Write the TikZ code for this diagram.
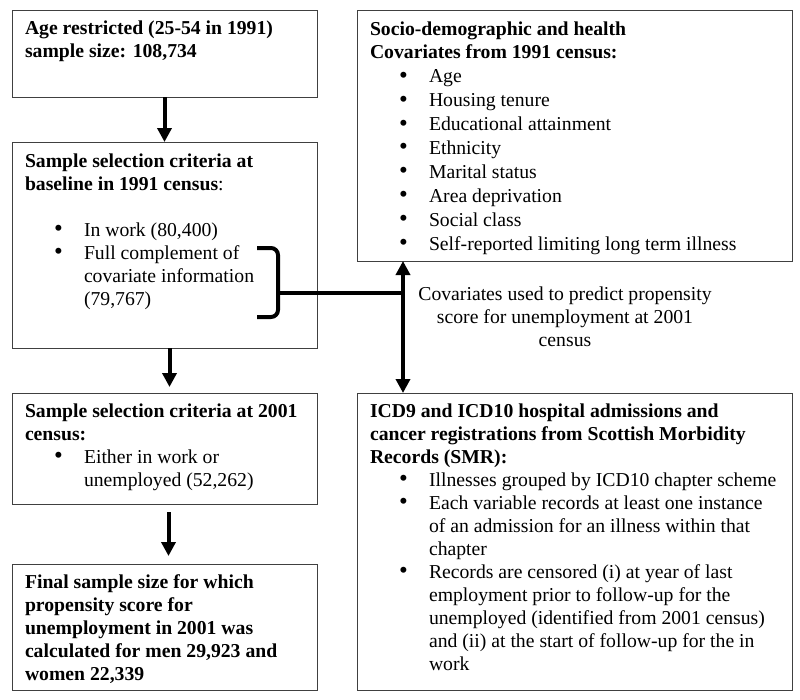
\documentclass[tikz,border=0pt]{standalone}
\usepackage{fontspec}
\setmainfont{Liberation Serif}
\usetikzlibrary{arrows.meta,calc}
\newcommand{\bl}{\hspace*{29pt}\makebox[30pt][l]{\raisebox{-0.4pt}{\fontsize{25}{23}\selectfont\textbullet}}}
\newcommand{\ct}{\hspace*{59pt}}
\tikzset{
  box/.style={draw=black!75, line width=0.9pt, rectangle, inner sep=0pt, outer sep=0pt, anchor=north west},
  txt/.style={inner sep=0pt, outer sep=0pt, anchor=base west, font=\fontsize{19.7}{23}\selectfont},
  txtw/.style={inner sep=0pt, outer sep=0pt, anchor=base west, font=\fontsize{19.7}{23.9}\selectfont},
  conn/.style={line width=4pt, -{Triangle[length=14pt,width=14pt]}},
  dconn/.style={line width=4pt, {Triangle[length=14pt,width=14pt]}-{Triangle[length=14pt,width=14pt]}},
  brk/.style={line width=4pt, rounded corners=7pt}
}
\begin{document}
\begin{tikzpicture}[x=1pt,y=-1pt]
\useasboundingbox[fill=white] (0,0) rectangle (800,699);
% boxes
\node[box, minimum width=305pt, minimum height=87pt] (b1) at (12,10) {};
\node[box, minimum width=305pt, minimum height=206pt] (b2) at (12,142) {};
\node[box, minimum width=305pt, minimum height=111pt] (b5) at (12,393) {};
\node[box, minimum width=305pt, minimum height=126pt] (b6) at (12,564) {};
\node[box, minimum width=435pt, minimum height=251pt] (b3) at (357,10) {};
\node[box, minimum width=435pt, minimum height=297pt] (b4) at (357,393) {};
% texts
\node[txt] (t1) at (25,34) {\parbox[t]{290pt}{\textbf{Age restricted (25-54 in 1991)}\\
\textbf{sample size: 108,734}}};
\node[txt] (t2) at (25,167) {\parbox[t]{290pt}{\textbf{Sample selection criteria at}\\
\textbf{baseline in 1991 census}:\\
\mbox{}\\
\bl In work (80,400)\\
\bl Full complement of\\
\ct covariate information\\
\ct (79,767)}};
\node[txt] (t5) at (25,417) {\parbox[t]{290pt}{\textbf{Sample selection criteria at 2001}\\
\textbf{census:}\\
\bl Either in work or\\
\ct unemployed (52,262)}};
\node[txt] (t6) at (25,588) {\parbox[t]{290pt}{\textbf{Final sample size for which}\\
\textbf{propensity score for}\\
\textbf{unemployment in 2001 was}\\
\textbf{calculated for men 29,923 and}\\
\textbf{women 22,339}}};
\node[txtw] (t3) at (370,35) {\parbox[t]{420pt}{\textbf{Socio-demographic and health}\\
\textbf{Covariates from 1991 census:}\\
\bl Age\\
\bl Housing tenure\\
\bl Educational attainment\\
\bl Ethnicity\\
\bl Marital status\\
\bl Area deprivation\\
\bl Social class\\
\bl Self-reported limiting long term illness}};
\node[txt] (t4) at (370,417) {\parbox[t]{420pt}{\textbf{ICD9 and ICD10 hospital admissions and}\\
\textbf{cancer registrations from Scottish Morbidity}\\
\textbf{Records (SMR):}\\
\bl Illnesses grouped by ICD10 chapter scheme\\
\bl Each variable records at least one instance\\
\ct of an admission for an illness within that\\
\ct chapter\\
\bl Records are censored (i) at year of last\\
\ct employment prior to follow-up for the\\
\ct unemployed (identified from 2001 census)\\
\ct and (ii) at the start of follow-up for the in\\
\ct work}};
\node[txt, anchor=base] (cap) at (565,300) {\parbox[t]{320pt}{\centering Covariates used to predict propensity\\
score for unemployment at 2001\\
census}};
% connectors
\draw[conn] (b1.south) -- (b2.north);
\draw[conn] ($(b2.south)+(5,0)$) -- ($(b5.north)+(5,-6)$);
\draw[conn] ($(b5.south)+(4,8)$) -- ($(b6.north)+(4,-8)$);
\coordinate (br) at (278,293);
\coordinate (jx) at (403,293);
\draw[brk] (257,248) -- (br |- 0,248) -- (br |- 0,317) -- (257,317);
\draw[line width=4pt] (br) -- (jx);
\draw[dconn] (jx |- b3.south) -- (jx |- b4.north);
\end{tikzpicture}
\end{document}
